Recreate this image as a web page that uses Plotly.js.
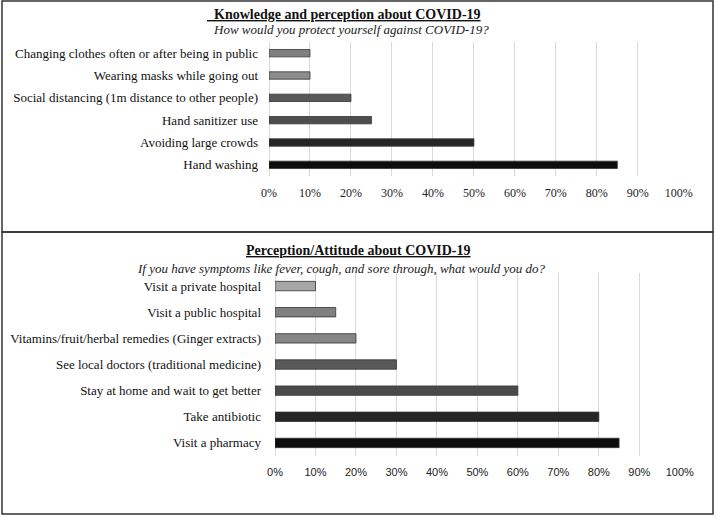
<!DOCTYPE html>
<html>
<head>
<meta charset="utf-8">
<script src="https://cdn.plot.ly/plotly-3.0.1.min.js"></script>
<style>html,body{margin:0;padding:0;background:#fff}#chart{width:716px;height:517px}</style>
</head>
<body>
<div id="chart"></div>
<script>
// Panel 1: How would you protect yourself against COVID-19?
const protectCategories = [
  "Changing clothes often or after being in public",
  "Wearing masks while going out",
  "Social distancing (1m distance to other people)",
  "Hand sanitizer use",
  "Avoiding large crowds",
  "Hand washing"
];
const protectValues = [0.10, 0.10, 0.20, 0.25, 0.50, 0.85];
const protectColors = ["#808080", "#8c8c8c", "#595959", "#4d4d4d", "#262626", "#0d0d0d"];

// Panel 2: If you have symptoms ... what would you do?
const symptomCategories = [
  "Visit a private hospital",
  "Visit a public hospital",
  "Vitamins/fruit/herbal remedies (Ginger extracts)",
  "See local doctors (traditional medicine)",
  "Stay at home and wait to get better",
  "Take antibiotic",
  "Visit a pharmacy"
];
const symptomValues = [0.10, 0.15, 0.20, 0.30, 0.60, 0.80, 0.85];
const symptomColors = ["#a6a6a6", "#7f7f7f", "#868686", "#595959", "#4a4a4a", "#262626", "#0d0d0d"];

const tickVals = [0, 0.1, 0.2, 0.3, 0.4, 0.5, 0.6, 0.7, 0.8, 0.9, 1.0];
const tickText = ["0%", "10%", "20%", "30%", "40%", "50%", "60%", "70%", "80%", "90%", "100%"];

const W = 716, H = 517;
const px = v => v / W;
const py = v => 1 - v / H;
const serif = '"Liberation Serif", "Times New Roman", serif';
const sans = '"Liberation Sans", Arial, sans-serif';

const data = [
  {
    type: "bar", orientation: "h",
    x: protectValues, y: protectCategories,
    marker: {color: protectColors, line: {color: "#333", width: 0.8}},
    width: 0.33, xaxis: "x", yaxis: "y", hoverinfo: "none"
  },
  {
    type: "bar", orientation: "h",
    x: symptomValues, y: symptomCategories,
    marker: {color: symptomColors, line: {color: "#333", width: 0.8}},
    width: 0.36, xaxis: "x2", yaxis: "y2", hoverinfo: "none"
  }
];

const xCommon = {
  range: [0, 1.0005], tickvals: tickVals, ticktext: tickText,
  showgrid: true, gridcolor: "#d9d9d9", gridwidth: 1,
  zeroline: true, zerolinecolor: "#d9d9d9", zerolinewidth: 1,
  showline: false, ticks: "", fixedrange: true
};
const yCommon = {
  type: "category", autorange: "reversed", showgrid: false, zeroline: false,
  showline: false, ticks: "", fixedrange: true
};

const layout = {
  width: W, height: H,
  margin: {l: 0, r: 0, t: 0, b: 0},
  paper_bgcolor: "#fff", plot_bgcolor: "rgba(0,0,0,0)",
  showlegend: false,
  font: {family: serif},
  xaxis: Object.assign({}, xCommon, {
    domain: [px(269), px(679)], anchor: "y",
    tickfont: {family: serif, size: 12, color: "#222"}, ticklabelstandoff: 8
  }),
  yaxis: Object.assign({}, yCommon, {
    domain: [py(176), py(42)], anchor: "x",
    tickfont: {family: serif, size: 13, color: "#111"}, ticklabelstandoff: 10
  }),
  xaxis2: Object.assign({}, xCommon, {
    domain: [px(275), px(680)], anchor: "y2",
    tickfont: {family: sans, size: 11, color: "#222"}, ticklabelstandoff: 8
  }),
  yaxis2: Object.assign({}, yCommon, {
    domain: [py(456), py(273)], anchor: "x2",
    tickfont: {family: serif, size: 13, color: "#111"}, ticklabelstandoff: 13
  }),
  shapes: [
    {type: "rect", xref: "paper", yref: "paper", x0: px(2), x1: px(713), y0: py(232), y1: py(1),
     line: {color: "#333", width: 1.5}},
    {type: "rect", xref: "paper", yref: "paper", x0: px(2), x1: px(713), y0: py(514), y1: py(232),
     line: {color: "#333", width: 1.5}}
  ],
  annotations: [
    {xref: "paper", yref: "paper", x: px(344), y: py(15), xanchor: "center", yanchor: "middle", showarrow: false,
     text: "<b><u>\u00a0\u00a0Knowledge and perception about COVID-19</u></b>",
     font: {family: serif, size: 14, color: "#111"}},
    {xref: "paper", yref: "paper", x: px(351), y: py(29), xanchor: "center", yanchor: "middle", showarrow: false,
     text: "<i>How would you protect yourself against COVID-19?</i>",
     font: {family: serif, size: 13, color: "#222"}},
    {xref: "paper", yref: "paper", x: px(358.5), y: py(250), xanchor: "center", yanchor: "middle", showarrow: false,
     text: "<b><u>Perception/Attitude about COVID-19</u></b>",
     font: {family: serif, size: 14, color: "#111"}},
    {xref: "paper", yref: "paper", x: px(341.5), y: py(268), xanchor: "center", yanchor: "middle", showarrow: false,
     text: "<i>If you have symptoms like fever, cough, and sore through, what would you do?</i>",
     font: {family: serif, size: 13, color: "#222"}}
  ]
};

Plotly.newPlot("chart", data, layout, {displayModeBar: false, staticPlot: true});
</script>
</body>
</html>
